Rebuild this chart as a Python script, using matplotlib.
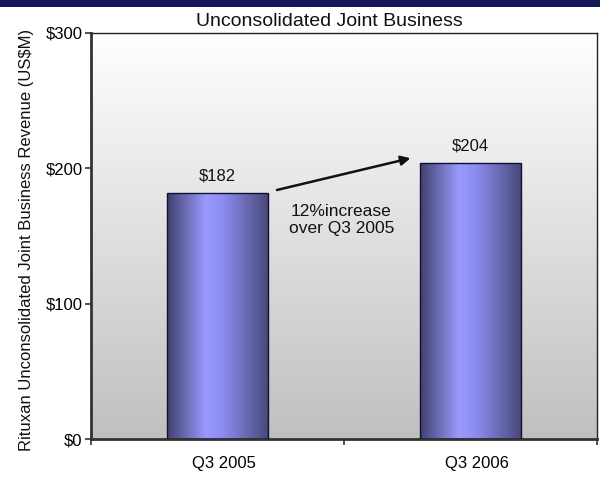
import numpy as np
import matplotlib
matplotlib.use("Agg")
import matplotlib.pyplot as plt
import matplotlib.transforms as mtransforms
from matplotlib.colors import LinearSegmentedColormap

plt.rcParams['font.family'] = ['Liberation Sans', 'DejaVu Sans']

categories = ["Q3 2005", "Q3 2006"]
revenue = [182, 204]
value_labels = ["$182", "$204"]
yticks = [0, 100, 200, 300]
ytick_labels = ["$0", "$100", "$200", "$300"]
title = "Unconsolidated Joint Business"
ylabel = "Rituxan Unconsolidated Joint Business Revenue (US$M)"
note = "12%increase\nover Q3 2005"

fig = plt.figure(figsize=(6.0, 4.86), dpi=100)
fig.patch.set_facecolor("white")

# navy header band
band = fig.add_axes([0, 1 - 7 / 486, 1, 7 / 486])
band.set_facecolor("#16165a")
band.set_xticks([]); band.set_yticks([])
for s in band.spines.values():
    s.set_visible(False)

ax = fig.add_axes([91 / 600, 1 - 439 / 486, 506 / 600, 406 / 486])

# plot area: grey at the bottom fading to white at the top
bg = np.linspace(0, 1, 256).reshape(-1, 1)
bg_cmap = LinearSegmentedColormap.from_list("bg", ["#c0c0c0", "#ffffff"])
ax.imshow(bg, cmap=bg_cmap, extent=(-0.5, 1.5, 0, 300), origin="lower",
          aspect="auto", zorder=0, interpolation="bicubic")
ax.set_xlim(-0.5, 1.5)
ax.set_ylim(0, 300)

# bars with a horizontal cylinder-like shading
bar_cmap = LinearSegmentedColormap.from_list(
    "bar", [(0.0, "#40406e"), (0.38, "#9a9aff"), (0.55, "#8c8cf0"), (1.0, "#484878")])
shade = np.linspace(0, 1, 256).reshape(1, -1)
x = np.arange(len(categories))
bars = ax.bar(x, revenue, width=0.4, facecolor="none", edgecolor="#101030",
              linewidth=1.0, zorder=3)
for b in bars:
    x0, w, h = b.get_x(), b.get_width(), b.get_height()
    im = ax.imshow(shade, cmap=bar_cmap, extent=(x0, x0 + w, 0, h),
                   aspect="auto", zorder=2, interpolation="bicubic")
    im.set_clip_path(b)

for xi, v, lab in zip(x, revenue, value_labels):
    ax.text(xi, v + 7, lab, ha="center", va="bottom", fontsize=12, color="#111111")

ax.annotate("", xy=(0.763, 207.5), xytext=(0.235, 184),
            arrowprops=dict(arrowstyle="-|>", color="#111111", lw=1.8,
                            mutation_scale=14, shrinkA=0, shrinkB=0), zorder=4)
ax.text(0.49, 162, note, ha="center", va="center", fontsize=12.5, color="#111111",
        linespacing=1.15)

ax.set_yticks(yticks)
ax.set_yticklabels(ytick_labels, fontsize=12)
ax.set_xticks(x)
ax.set_xticklabels(categories, fontsize=12)
ax.tick_params(axis="x", length=0, pad=12)
shift = mtransforms.ScaledTranslation(6 / 100, 0, fig.dpi_scale_trans)
for lbl in ax.get_xticklabels():
    lbl.set_transform(lbl.get_transform() + shift)
ax.set_xticks([-0.5, 0.5, 1.5], minor=True)
ax.tick_params(axis="x", which="minor", length=4, direction="out", color="#333333", width=1.2)
ax.tick_params(axis="y", length=4, direction="out", color="#333333", width=1.2, pad=2)

for side in ("left", "bottom"):
    ax.spines[side].set_linewidth(2.0)
    ax.spines[side].set_color("#333333")
for side in ("top", "right"):
    ax.spines[side].set_linewidth(1.0)
    ax.spines[side].set_color("#222222")

title_trans = ax.transAxes + mtransforms.ScaledTranslation(0, 3 / 100, fig.dpi_scale_trans)
ax.text(0.472, 1.0, title, transform=title_trans, ha="center", va="bottom",
        fontsize=14, color="#111111")
fig.text(27 / 600, 1 - 240 / 486, ylabel, rotation=90, ha="center", va="center",
         fontsize=12, color="#111111")

fig.savefig("out.png", dpi=100)
